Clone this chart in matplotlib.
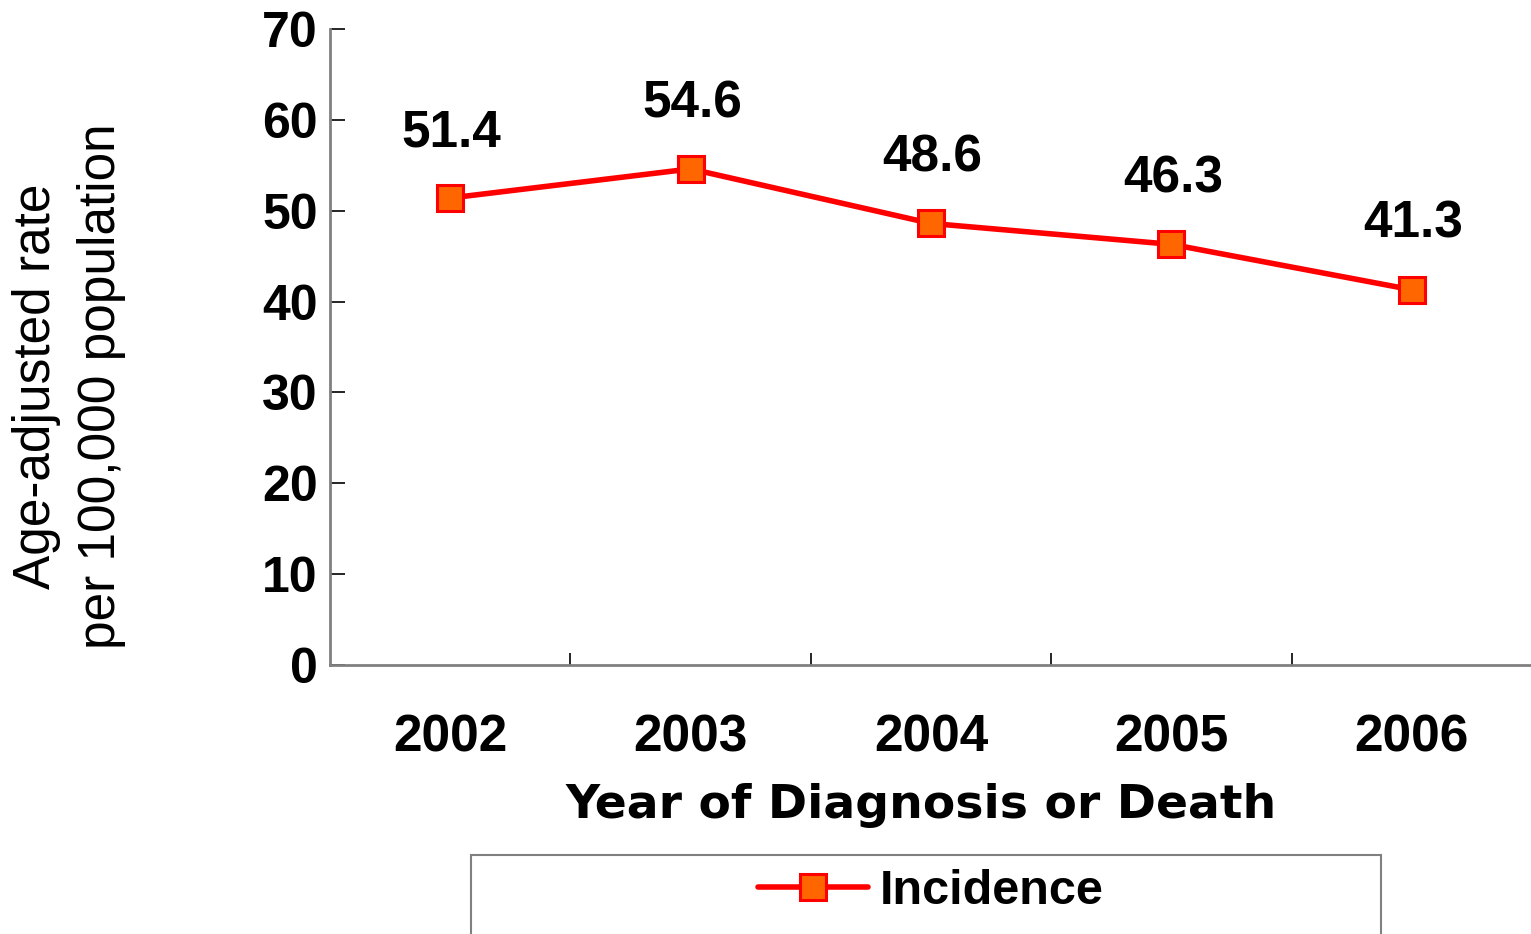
import matplotlib
matplotlib.use("Agg")
import matplotlib.pyplot as plt
from matplotlib.patches import Rectangle

years = ["2002", "2003", "2004", "2005", "2006"]
incidence = [51.4, 54.6, 48.6, 46.3, 41.3]
yticks = [0, 10, 20, 30, 40, 50, 60, 70]

plt.rcParams['font.family'] = ['Liberation Sans', 'DejaVu Sans']

W, H = 1531, 934
fig = plt.figure(figsize=(W / 100, H / 100), dpi=100)
ax = fig.add_axes([330 / W, 1 - 665 / H, (1532 - 330) / W, (665 - 29) / H])

x = list(range(len(years)))
ax.plot(x, incidence, color='#FF0000', lw=4, marker='s', markersize=19,
        markerfacecolor='#FF6600', markeredgecolor='#FF0000', markeredgewidth=2.2,
        label='Incidence', solid_capstyle='round', zorder=3)

for xi, v in zip(x, incidence):
    ax.annotate(f"{v:.1f}", (xi, v), xytext=(1, 47), textcoords='offset points',
                ha='center', va='center', fontsize=37, fontweight='bold')

ax.set_xlim(-0.5, len(years) - 0.5)
ax.set_ylim(0, 70)
ax.set_yticks(yticks)
ax.set_yticklabels([str(t) for t in yticks], fontsize=36, fontweight='bold')
ax.set_xticks(x)
ax.set_xticklabels(years, fontsize=37, fontweight='bold')
ax.set_xticks([i + 0.5 for i in x[:-1]], minor=True)

for s in ['top', 'right']:
    ax.spines[s].set_visible(False)
for s in ['left', 'bottom']:
    ax.spines[s].set_color('#808080')
    ax.spines[s].set_linewidth(2)

ax.tick_params(axis='y', direction='in', length=11, width=1.2, color='black', pad=9)
ax.tick_params(axis='x', which='major', length=0, pad=35)
ax.tick_params(axis='x', which='minor', direction='in', length=9, width=1.2, color='black')

fig.text(921 / W, 1 - 806 / H, "Year of Diagnosis or Death", ha='center', va='center',
         fontsize=34, fontweight='bold', family=['DejaVu Sans'])

fig.text(69 / W, 1 - 386 / H, "Age-adjusted rate\nper 100,000 population", rotation=90,
         ha='center', va='center', multialignment='center', fontsize=37, linespacing=1.42)

rect = Rectangle((471 / W, -0.05), 910 / W, (1 - 855 / H) + 0.05, transform=fig.transFigure,
                 fill=False, edgecolor='#808080', lw=1.5, clip_on=False)
fig.add_artist(rect)

fig.legend(loc='center', bbox_to_anchor=(931 / W, 1 - 892 / H), frameon=False,
           prop={'weight': 'bold', 'size': 35}, handlelength=2.26,
           handletextpad=0.25, borderpad=0, markerscale=1.0)

fig.savefig("out.png", dpi=100)
